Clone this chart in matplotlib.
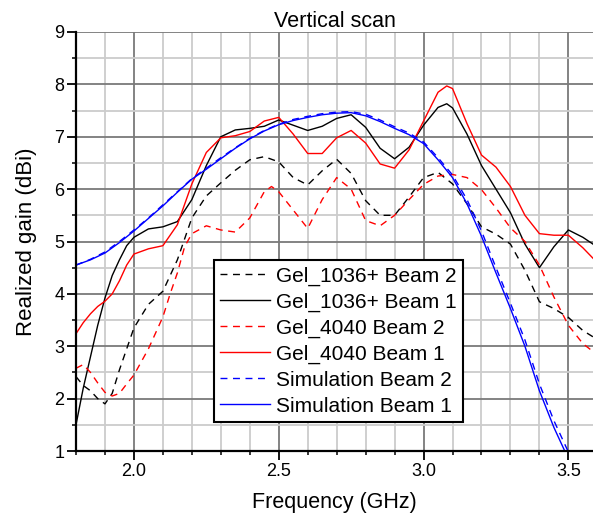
import matplotlib
matplotlib.use("Agg")
import matplotlib.pyplot as plt
from matplotlib.ticker import MultipleLocator

plt.rcParams["font.family"] = ["Liberation Sans", "DejaVu Sans"]

# Measured realized gain vs frequency, vertical scan
freq_g1036_b2 = [1.80, 1.825, 1.85, 1.875, 1.90, 1.925, 1.95, 1.975, 2.00, 2.05, 2.10, 2.15, 2.20,
                 2.25, 2.30, 2.35, 2.40, 2.45, 2.50, 2.55, 2.60, 2.65, 2.70, 2.75, 2.80, 2.85,
                 2.90, 2.95, 3.00, 3.05, 3.10, 3.15, 3.20, 3.25, 3.30, 3.35, 3.40, 3.45, 3.50,
                 3.55, 3.585]
gain_g1036_b2 = [2.42, 2.25, 2.15, 2.00, 1.90, 2.10, 2.55, 2.95, 3.35, 3.80, 4.05, 4.65, 5.45,
                 5.87, 6.12, 6.36, 6.56, 6.62, 6.52, 6.22, 6.08, 6.35, 6.57, 6.30, 5.78, 5.50,
                 5.50, 5.85, 6.22, 6.32, 6.10, 5.72, 5.28, 5.14, 4.95, 4.45, 3.85, 3.72, 3.55,
                 3.30, 3.18]

freq_g1036_b1 = [1.80, 1.825, 1.85, 1.875, 1.90, 1.925, 1.95, 1.975, 2.00, 2.05, 2.10, 2.15, 2.20,
                 2.25, 2.30, 2.35, 2.40, 2.45, 2.50, 2.55, 2.60, 2.65, 2.70, 2.75, 2.80, 2.85,
                 2.90, 2.95, 3.00, 3.05, 3.08, 3.10, 3.15, 3.20, 3.25, 3.30, 3.35, 3.40, 3.45,
                 3.50, 3.55, 3.585]
gain_g1036_b1 = [1.50, 2.20, 2.80, 3.40, 3.92, 4.35, 4.65, 4.92, 5.08, 5.24, 5.28, 5.38, 5.80,
                 6.45, 7.00, 7.13, 7.16, 7.20, 7.32, 7.22, 7.12, 7.20, 7.35, 7.42, 7.18, 6.78,
                 6.58, 6.80, 7.22, 7.56, 7.63, 7.55, 7.05, 6.45, 6.00, 5.55, 4.95, 4.50, 4.90,
                 5.22, 5.08, 4.95]

freq_g4040_b2 = [1.80, 1.825, 1.85, 1.875, 1.90, 1.925, 1.95, 1.975, 2.00, 2.05, 2.10, 2.125,
                 2.15, 2.175, 2.20, 2.25, 2.30, 2.35, 2.40, 2.45, 2.475, 2.50, 2.55, 2.60, 2.65,
                 2.70, 2.75, 2.80, 2.85, 2.90, 2.95, 3.00, 3.05, 3.10, 3.15, 3.20, 3.25, 3.30,
                 3.35, 3.40, 3.45, 3.50, 3.55, 3.585]
gain_g4040_b2 = [2.58, 2.65, 2.50, 2.30, 2.12, 2.05, 2.10, 2.28, 2.45, 2.95, 3.56, 4.00,
                 4.40, 4.90, 5.15, 5.30, 5.22, 5.18, 5.45, 5.95, 6.05, 5.95, 5.60, 5.25, 5.80,
                 6.22, 6.00, 5.40, 5.30, 5.50, 5.80, 6.09, 6.25, 6.28, 6.22, 5.99, 5.64, 5.26,
                 5.00, 4.55, 3.94, 3.40, 3.05, 2.90]

freq_g4040_b1 = [1.80, 1.825, 1.85, 1.875, 1.90, 1.925, 1.95, 1.975, 2.00, 2.05, 2.10, 2.15, 2.20,
                 2.25, 2.30, 2.35, 2.40, 2.45, 2.50, 2.55, 2.60, 2.65, 2.70, 2.75, 2.80, 2.85,
                 2.90, 2.95, 3.00, 3.05, 3.08, 3.10, 3.15, 3.20, 3.25, 3.30, 3.35, 3.40, 3.45,
                 3.50, 3.55, 3.585]
gain_g4040_b1 = [3.24, 3.45, 3.62, 3.76, 3.86, 4.00, 4.25, 4.55, 4.76, 4.86, 4.92, 5.32, 6.10,
                 6.70, 6.98, 7.02, 7.10, 7.30, 7.37, 7.05, 6.68, 6.68, 6.98, 7.12, 6.88, 6.48,
                 6.40, 6.75, 7.30, 7.85, 7.97, 7.92, 7.25, 6.65, 6.42, 6.05, 5.50, 5.15, 5.12,
                 5.12, 4.88, 4.68]

freq_sim = [1.80, 1.85, 1.90, 1.95, 2.00, 2.05, 2.10, 2.15, 2.20, 2.25, 2.30, 2.35, 2.40, 2.45,
            2.50, 2.55, 2.60, 2.65, 2.70, 2.75, 2.80, 2.85, 2.90, 2.95, 3.00, 3.05, 3.10, 3.15,
            3.20, 3.25, 3.30, 3.35, 3.40, 3.45, 3.50]
gain_sim_b2 = [4.55, 4.66, 4.80, 5.00, 5.22, 5.45, 5.70, 5.95, 6.20, 6.40, 6.60, 6.79, 6.97, 7.12,
               7.24, 7.33, 7.39, 7.44, 7.47, 7.48, 7.43, 7.32, 7.19, 7.07, 6.90, 6.60, 6.27, 5.80,
               5.20, 4.50, 3.82, 3.12, 2.28, 1.58, 0.98]
gain_sim_b1 = [4.55, 4.65, 4.78, 4.98, 5.20, 5.44, 5.68, 5.94, 6.19, 6.38, 6.58, 6.78, 6.96, 7.11,
               7.23, 7.31, 7.37, 7.42, 7.45, 7.46, 7.40, 7.29, 7.16, 7.04, 6.87, 6.56, 6.22, 5.72,
               5.10, 4.40, 3.72, 3.00, 2.15, 1.45, 0.85]

fig = plt.figure(figsize=(5.93, 5.15), dpi=100)
ax = fig.add_axes([76 / 593, 64 / 515, 517 / 593, 419 / 515])

dash = (5, 4)
ax.plot(freq_g1036_b2, gain_g1036_b2, color="black", lw=1.0, dashes=dash, label="Gel_1036+ Beam 2")
ax.plot(freq_g1036_b1, gain_g1036_b1, color="black", lw=1.0, label="Gel_1036+ Beam 1")
ax.plot(freq_g4040_b2, gain_g4040_b2, color="red", lw=1.0, dashes=dash, label="Gel_4040 Beam 2")
ax.plot(freq_g4040_b1, gain_g4040_b1, color="red", lw=1.0, label="Gel_4040 Beam 1")
ax.plot(freq_sim, gain_sim_b2, color="blue", lw=1.0, dashes=dash, label="Simulation Beam 2")
ax.plot(freq_sim, gain_sim_b1, color="blue", lw=1.0, label="Simulation Beam 1")

ax.set_xlim(1.8, 3.585)
ax.set_ylim(1, 9)
ax.xaxis.set_major_locator(MultipleLocator(0.5))
ax.xaxis.set_minor_locator(MultipleLocator(0.1))
ax.yaxis.set_major_locator(MultipleLocator(1))
ax.yaxis.set_minor_locator(MultipleLocator(0.5))
ax.xaxis.set_major_formatter(matplotlib.ticker.FormatStrFormatter("%.1f"))

ax.grid(which="major", color="#7a7a7a", lw=1.3)
ax.grid(which="minor", color="#cccccc", lw=1.3)
ax.set_axisbelow(True)

for side in ["top", "right"]:
    ax.spines[side].set_visible(False)
for side in ["left", "bottom"]:
    ax.spines[side].set_linewidth(1.6)

ax.tick_params(which="major", direction="out", length=6.5, width=1.3, labelsize=13, pad=2)
ax.tick_params(which="minor", direction="out", length=3, width=1.1)

ax.set_title("Vertical scan", fontsize=15.5, pad=2)
ax.set_xlabel("Frequency (GHz)", fontsize=15.5, labelpad=9)
ax.set_ylabel("Realized gain (dBi)", fontsize=16, labelpad=12)

leg = ax.legend(loc="upper left", bbox_to_anchor=(138 / 517, 191 / 419), borderaxespad=0,
                fontsize=15, fancybox=False, framealpha=1, edgecolor="black",
                labelspacing=0.33, handlelength=2.4, handletextpad=0.3, borderpad=0.3)
leg.get_frame().set_linewidth(1.5)

fig.savefig("out.png", dpi=100)
